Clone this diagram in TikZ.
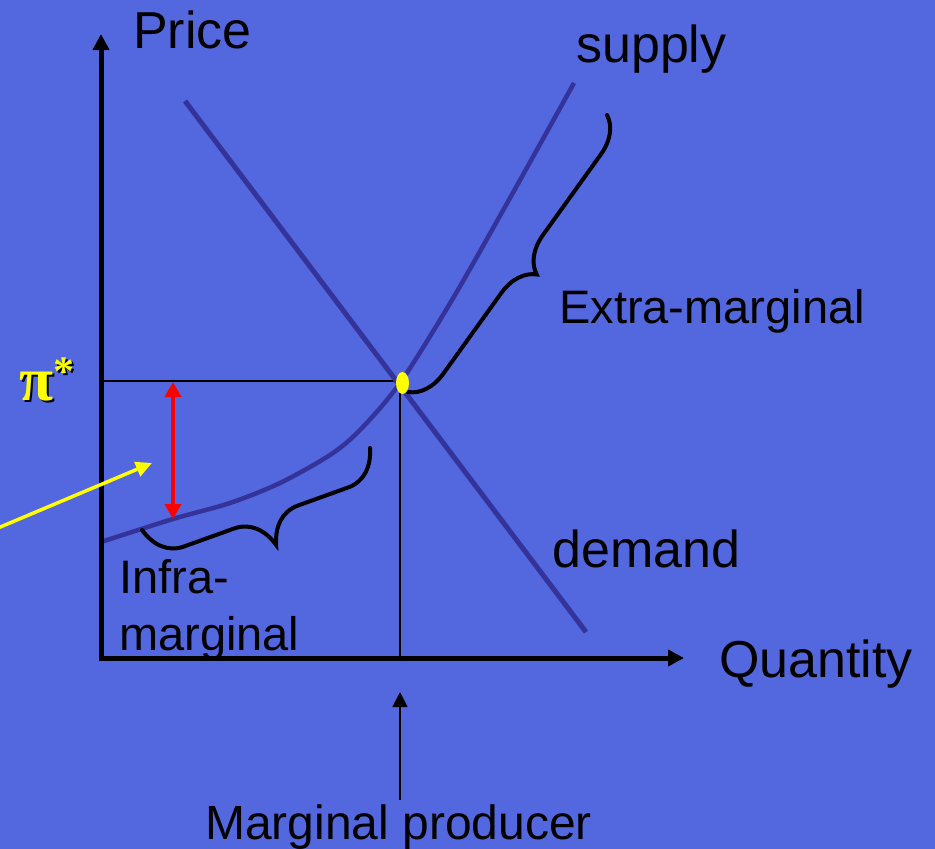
\documentclass[tikz,border=0pt]{standalone}
\usepackage{fontspec}
\setmainfont{Liberation Sans}
\newfontfamily\pifont{Liberation Serif}
\usetikzlibrary{arrows.meta,decorations.pathreplacing}
\definecolor{slide}{HTML}{5367DF}
\definecolor{curveblue}{HTML}{33339A}
\definecolor{sunyellow}{HTML}{FFFF00}
\definecolor{arrred}{HTML}{FF0000}
\newcommand{\pistarmark}{π\raisebox{15pt}{\fontsize{42}{42}\selectfont *}}
\tikzset{
  axis/.style={draw=black,line width=5pt,-{Triangle[length=16pt,width=16pt]}},
  curve/.style={draw=curveblue,line width=4.5pt},
  guide/.style={draw=black,line width=1.8pt},
  bigtxt/.style={font=\fontsize{52}{58}\selectfont,inner sep=0pt,anchor=base west},
  midtxt/.style={font=\fontsize{47}{57}\selectfont,inner sep=0pt,anchor=base west,
                 align=left},
  redarr/.style={{Triangle[length=15pt,width=16pt]}-{Triangle[length=15pt,width=16pt]},
                 line width=3.5pt,draw=arrred},
  yelarr/.style={-{Triangle[length=16pt,width=15pt]},line width=3.5pt,draw=sunyellow},
  blkarr/.style={-{Triangle[length=15pt,width=15pt]},line width=1.8pt,draw=black},
  mbrace/.style={decorate,decoration={brace,amplitude=#1},line width=4pt,
                 draw=black,line cap=round}
}
\begin{document}
\begin{tikzpicture}[x=1pt,y=-1pt]
    \fill[slide] (0,0) rectangle (935,849);
    \useasboundingbox (0,0) rectangle (935,849);

    % axes and market point
    \coordinate (ybot) at (101,660.5);
    \coordinate (ytop) at (101,34);
    \coordinate (xleft) at (98.5,658);
    \coordinate (xtip) at (684,658);
    \coordinate (peq) at (101,381);
    \coordinate (eq) at (400,381);
    \coordinate (qeq) at (400,658);
    \draw[guide] (peq) -- (eq) -- (qeq);

    % demand and supply
    \coordinate (dtop) at (185,101);
    \coordinate (dbot) at (586,632);
    \draw[curve,line width=5pt] (dtop) -- (dbot);
    \draw[curve] plot[smooth] coordinates {(101,542) (173,519) (230,503) (280,483)
      (330,455) (360,430) (400,383) (452,300) (510,198) (574,83)};

    \draw[axis] (ybot) -- (ytop);
    \draw[axis] (xleft) -- (xtip);

    % braces
    \coordinate (xb1) at (607,115);
    \coordinate (xb2) at (408,392);
    \draw[mbrace=36pt] (xb1) -- (xb2);
    \coordinate (ib1) at (370,448);
    \coordinate (ib2) at (142,530);
    \draw[mbrace=34pt,decoration={transform={yscale=1.75}}] (ib1) -- (ib2);

    % arrows
    \coordinate (rtop) at (173,382);
    \coordinate (rbot) at (173,519);
    \draw[redarr] (rtop) -- (rbot);
    \coordinate (yfrom) at (-2,528);
    \coordinate (yto) at (152,463);
    \draw[yelarr] (yfrom) -- (yto);
    \coordinate (mfrom) at (400,800);
    \coordinate (mto) at (400,692);
    \draw[blkarr] (mfrom) -- (mto);

    \fill[sunyellow] (402.5,383) ellipse (6.5 and 11);

    % labels
    \node[bigtxt] (price) at (133,48) {Price};
    \node[bigtxt] (supply) at (576,62) {supply};
    \node[bigtxt] (demand) at (552,567) {demand};
    \node[bigtxt] (quantity) at (719,677) {Quantity};
    \node[midtxt] (extra) at (559,323) {Extra-marginal};
    \node[midtxt] (infra) at (119,650) {Infra-\\marginal};
    \node[midtxt,font=\fontsize{48}{57}\selectfont] (marg) at (205,839)
      {Marginal producer};
    \node[font={\pifont\bfseries\fontsize{62}{64}\selectfont},text=sunyellow,
      inner sep=0pt,anchor=base west] (pistar) at (19,400)
      {\rlap{\kern2.5pt\raisebox{-2.5pt}{\color{black}\pistarmark}}\pistarmark};
\end{tikzpicture}
\end{document}
